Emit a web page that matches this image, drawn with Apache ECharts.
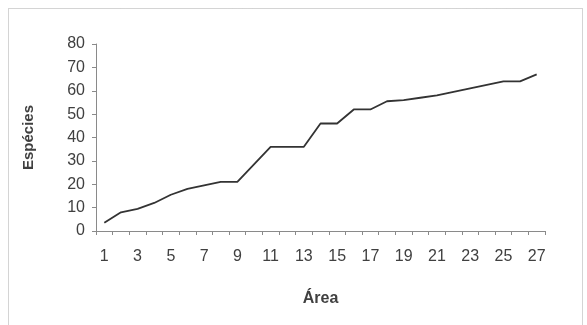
<!DOCTYPE html>
<html>
<head>
<meta charset="utf-8">
<script src="https://cdn.jsdelivr.net/npm/echarts@6/dist/echarts.min.js"></script>
<style>
  html, body { margin: 0; padding: 0; background: #ffffff; }
  #chart { width: 587px; height: 325px; }
</style>
</head>
<body>
<div id="chart"></div>
<script>
// Species accumulation by sampled area
const areas = Array.from({ length: 27 }, (_, i) => String(i + 1));
const especies = [3.5, 8, 9.5, 12, 15.5, 18, 19.5, 21, 21, 28.5, 36, 36, 36, 46, 46,
                  52, 52, 55.5, 56, 57, 58, 59.5, 61, 62.5, 64, 64, 67];
const yMin = 0, yMax = 80, yStep = 10;

const chart = echarts.init(document.getElementById('chart'), null, { renderer: 'canvas' });

const textColor = '#404040';
const axisColor = '#8a8a8a';
const font = 'Arial, "Liberation Sans", sans-serif';

chart.setOption({
  animation: false,
  backgroundColor: '#ffffff',
  graphic: [{
    type: 'rect',
    shape: { x: 8.5, y: 8.5, width: 574, height: 330 },
    style: { fill: 'none', stroke: '#a8a8a8', lineWidth: 1, lineDash: [1, 1] },
    silent: true
  }],
  grid: { left: 96, right: 42, top: 44, bottom: 94 },
  xAxis: {
    type: 'category',
    data: areas,
    boundaryGap: true,
    name: 'Área',
    nameLocation: 'middle',
    nameGap: 60,
    nameTextStyle: { fontFamily: font, fontWeight: 'bold', fontSize: 16, color: textColor },
    axisLine: { lineStyle: { color: axisColor, width: 1 } },
    axisTick: { show: true, length: 4, interval: 0, lineStyle: { color: axisColor } },
    axisLabel: { interval: 1, margin: 18, fontFamily: font, fontSize: 16, color: textColor },
    splitLine: { show: false }
  },
  yAxis: {
    type: 'value',
    min: yMin, max: yMax, interval: yStep,
    name: 'Espécies',
    nameLocation: 'middle',
    nameGap: 60,
    nameRotate: 90,
    nameTextStyle: { fontFamily: font, fontWeight: 'bold', fontSize: 15, color: textColor },
    axisLine: { show: true, lineStyle: { color: axisColor, width: 1 } },
    axisTick: { show: true, length: 4, lineStyle: { color: axisColor } },
    axisLabel: { margin: 11, fontFamily: font, fontSize: 16, color: textColor },
    splitLine: { show: false }
  },
  series: [{
    type: 'line',
    data: especies,
    symbol: 'none',
    lineStyle: { color: '#333333', width: 1.8 },
    itemStyle: { color: '#333333' }
  }]
});
</script>
</body>
</html>
